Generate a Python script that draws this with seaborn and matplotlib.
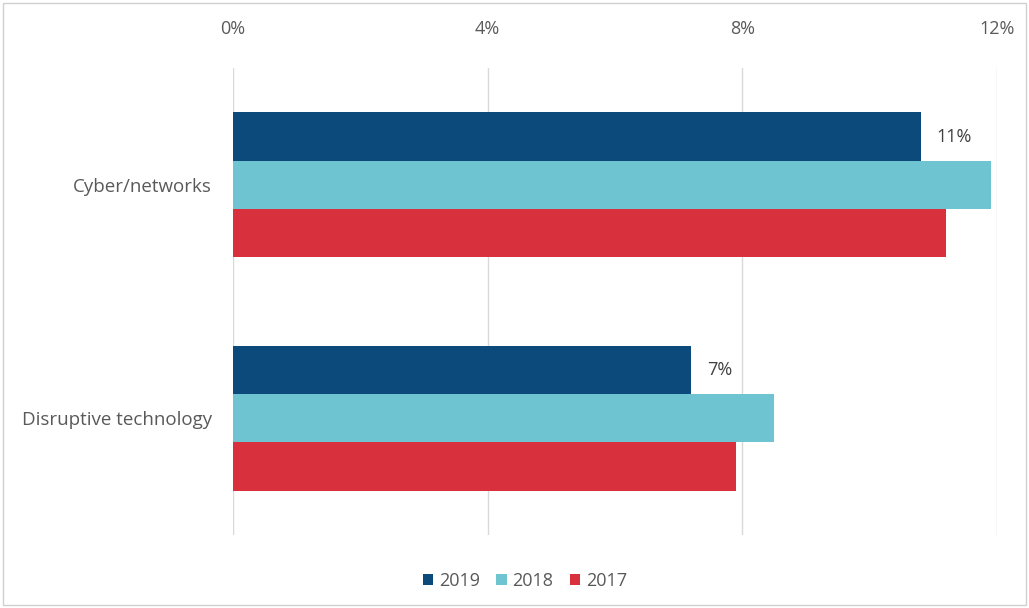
import seaborn as sns
import matplotlib.pyplot as plt
import pandas as pd
from matplotlib.patches import Rectangle

# data
categories = ["Cyber/networks", "Disruptive technology"]
years = ["2019", "2018", "2017"]
vals_2019 = [10.8, 7.2]
vals_2018 = [11.9, 8.5]
vals_2017 = [11.2, 7.9]
labels_2019 = ["11%", "7%"]
xticks = [0, 4, 8, 12]

df = pd.DataFrame({
    "category": categories * 3,
    "year": [y for y in years for _ in categories],
    "value": vals_2019 + vals_2018 + vals_2017,
})

palette = {"2019": "#0b4a7b", "2018": "#6ec4d1", "2017": "#d8303d"}
grey = "#595959"

sns.set_style("white")
plt.rcParams["font.family"] = ["Open Sans", "DejaVu Sans"]

fig = plt.figure(figsize=(10.29, 6.08), dpi=100)
ax = fig.add_axes([0.2264, 0.12, 0.7426, 0.768])

sns.barplot(data=df, y="category", x="value", hue="year", hue_order=years,
            order=categories, palette=palette, width=0.62, saturation=1,
            orient="h", ax=ax, legend=True, linewidth=0)

ax.set_xlim(0, 12)
ax.set_xticks(xticks)
ax.set_xticklabels([f"{t}%" for t in xticks])
ax.xaxis.tick_top()
ax.tick_params(axis="x", length=0, pad=22, labelsize=13, labelcolor=grey)
ax.tick_params(axis="y", length=0, pad=15, labelsize=13.5, labelcolor=grey)
ax.grid(axis="x", color="#d9d9d9", linewidth=1)
ax.set_axisbelow(True)
for s in ax.spines.values():
    s.set_visible(False)
ax.set_xlabel("")
ax.set_ylabel("")

# labels on the 2019 bars only
ax.bar_label(ax.containers[0], labels=labels_2019, padding=11,
             fontsize=13, color="#404040")

handles, lbls = ax.get_legend_handles_labels()
ax.get_legend().remove()
fig.legend(handles, lbls, loc="center", bbox_to_anchor=(0.51, 0.045), ncol=3,
           frameon=False, fontsize=13, handlelength=0.6, handleheight=0.6,
           handletextpad=0.3, columnspacing=0.9, labelcolor=grey)

fig.patches.append(Rectangle((0.003, 0.005), 0.994, 0.99, transform=fig.transFigure,
                             fill=False, edgecolor="#d0d0d0", linewidth=1))

fig.savefig("out.png", dpi=100)
